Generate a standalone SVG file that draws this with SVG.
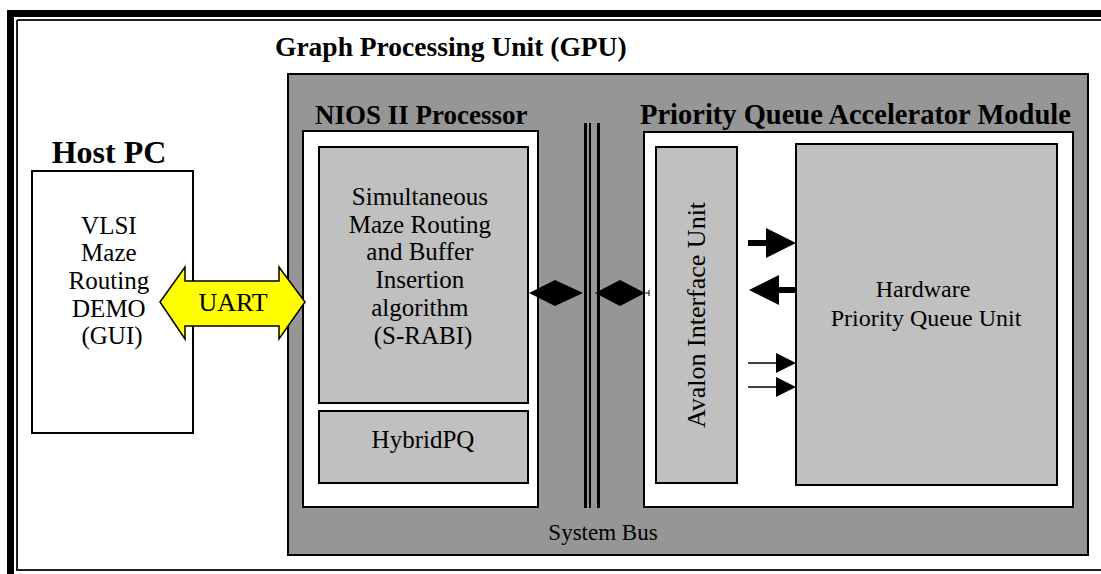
<svg xmlns="http://www.w3.org/2000/svg" width="1101" height="574" viewBox="0 0 1101 574">
  <style>
    .t { font-family: "Liberation Serif", "Times New Roman", serif; fill: #000; }
    .b { font-weight: bold; }
    .c { text-anchor: middle; }
    .box { stroke: #000; stroke-width: 2; }
    .gpu { fill: #969696; }
    .white { fill: #ffffff; }
    .light { fill: #c0c0c0; }
  </style>

  <rect width="1101" height="574" fill="#ffffff"/>

  <!-- page frame -->
  <g id="frame">
    <rect x="7" y="10" width="1094" height="7" fill="#000"/>
    <rect x="7" y="10" width="7" height="564" fill="#000"/>
    <line x1="17" y1="20" x2="1101" y2="20" stroke="#222" stroke-width="2"/>
    <line x1="17" y1="20" x2="17" y2="571" stroke="#222" stroke-width="2"/>
    <line x1="17" y1="570" x2="1101" y2="570" stroke="#222" stroke-width="2"/>
  </g>

  <!-- host computer -->
  <g id="host-pc">
    <text class="t b c" x="109" y="163" font-size="32">Host PC</text>
    <rect class="box white" x="32" y="171" width="161" height="262"/>
    <text class="t c" font-size="25">
      <tspan x="112" y="233.5">VLSI</tspan>
      <tspan x="112" y="261.2">Maze</tspan>
      <tspan x="112" y="288.9">Routing</tspan>
      <tspan x="112" y="316.6">DEMO</tspan>
      <tspan x="112" y="344.3">(GUI)</tspan>
    </text>
  </g>

  <!-- graph processing unit -->
  <g id="gpu">
    <text class="t b" x="275" y="56" font-size="27.5">Graph Processing Unit (GPU)</text>
    <rect class="box gpu" x="288" y="74" width="800" height="481"/>
    <text class="t c" x="603" y="540" font-size="23">System Bus</text>
  </g>

  <g id="nios">
    <text class="t b" x="315" y="124" font-size="27">NIOS II Processor</text>
    <rect class="box white" x="303" y="131" width="235" height="376"/>
  </g>

  <g id="s-rabi">
    <rect class="box light" x="319" y="147" width="209" height="256"/>
    <text class="t c" font-size="25">
      <tspan x="423" y="205">Simultaneous</tspan>
      <tspan x="423" y="232.7">Maze Routing</tspan>
      <tspan x="423" y="260.4">and Buffer</tspan>
      <tspan x="423" y="288.1">Insertion</tspan>
      <tspan x="423" y="315.8">algorithm</tspan>
      <tspan x="423" y="343.5">(S-RABI)</tspan>
    </text>
  </g>

  <g id="hybridpq">
    <rect class="box light" x="319" y="411" width="209" height="72"/>
    <text class="t c" x="423" y="448" font-size="25">HybridPQ</text>
  </g>

  <g id="pq-accelerator">
    <text class="t b" x="640" y="124" font-size="28.5">Priority Queue Accelerator Module</text>
    <rect class="box white" x="644" y="132" width="429" height="375"/>
  </g>

  <g id="avalon">
    <rect class="box light" x="656" y="147" width="81" height="336"/>
    <text class="t c" x="0" y="0" font-size="26" transform="translate(705 315) rotate(-90)">Avalon Interface Unit</text>
  </g>

  <g id="hw-pq">
    <rect class="box light" x="796" y="144" width="261" height="341"/>
    <text class="t c" font-size="24">
      <tspan x="926" y="297">Hardware</tspan>
      <tspan x="926" y="326">Priority Queue Unit</tspan>
    </text>
  </g>

  <!-- system bus -->
  <g id="system-bus" fill="#000">
    <rect x="584" y="123" width="3" height="385"/>
    <rect x="589" y="123" width="2" height="385"/>
    <rect x="597" y="123" width="3" height="385"/>
  </g>

  <!-- connectors -->
  <g id="connectors">
    <!-- UART link between host and processor -->
    <polygon points="160,302 185,267 185,281 279,281 279,267 305,302 279,339 279,326 185,326 185,339" fill="#ffff00" stroke="#000" stroke-width="1.5"/>
    <text class="t c" x="233" y="311" font-size="26">UART</text>

    <!-- processor to bus -->
    <polygon points="529,293 555,280 583,293 555,306" fill="#000"/>
    <!-- bus to accelerator -->
    <polygon points="595,293 620,280 645,293 620,306" fill="#000"/>
    <line x1="645" y1="293" x2="649" y2="293" stroke="#000" stroke-width="1"/>
    <line x1="649" y1="290" x2="649" y2="296" stroke="#000" stroke-width="1"/>

    <!-- avalon to hardware queue -->
    <line x1="748" y1="243" x2="768" y2="243" stroke="#000" stroke-width="6"/>
    <polygon points="766,228 796,243 766,258" fill="#000"/>
    <line x1="777" y1="290" x2="796" y2="290" stroke="#000" stroke-width="6"/>
    <polygon points="779,275 749,290 779,305" fill="#000"/>
    <line x1="748" y1="363" x2="778" y2="363" stroke="#000" stroke-width="1.5"/>
    <polygon points="776,353 796,363 776,373" fill="#000"/>
    <line x1="748" y1="387" x2="778" y2="387" stroke="#000" stroke-width="1.5"/>
    <polygon points="776,377 796,387 776,397" fill="#000"/>
  </g>
</svg>
